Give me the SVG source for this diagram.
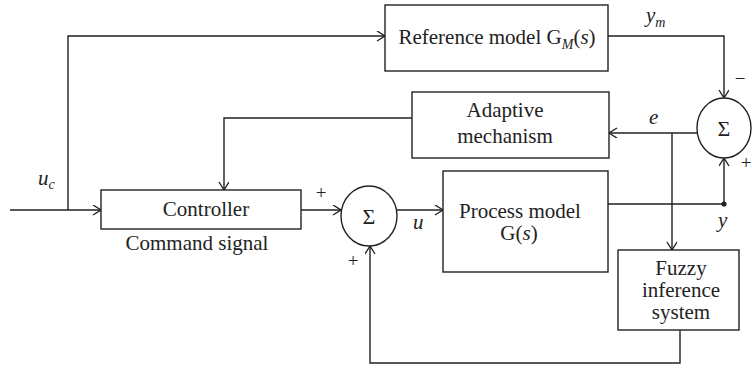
<svg xmlns="http://www.w3.org/2000/svg" width="752" height="368" viewBox="0 0 752 368">
<style>
.box{fill:#fff;stroke:#222;stroke-width:1.4}
.sum{fill:#fff;stroke:#222;stroke-width:1.4}
.ln{fill:none;stroke:#222;stroke-width:1.4}
text{font-family:"Liberation Serif","Times New Roman",serif;font-size:21px;fill:#222}
.c{text-anchor:middle}
.i{font-style:italic}
.sm{font-size:14px}
.sg{font-size:22px}
.pm{font-size:19px}
</style>
<defs>
<marker id="ar" markerUnits="userSpaceOnUse" markerWidth="12" markerHeight="12" refX="9" refY="5" orient="auto">
<path d="M1,0 L9,5 L1,10" fill="none" stroke="#222" stroke-width="1.4"/>
</marker>
</defs>
<rect width="752" height="368" fill="#fff"/>
<g id="connectors">
<path class="ln" d="M10,210 H101" marker-end="url(#ar)"/>
<path class="ln" d="M68,210 V36 H385" marker-end="url(#ar)"/>
<path class="ln" d="M608,36 H724 V98" marker-end="url(#ar)"/>
<path class="ln" d="M698,133 H609" marker-end="url(#ar)"/>
<path class="ln" d="M672,133 V250" marker-end="url(#ar)"/>
<path class="ln" d="M608,204 H724 V158" marker-end="url(#ar)"/>
<circle cx="724" cy="204" r="2.6" fill="#222"/>
<path class="ln" d="M412,118 H224 V190" marker-end="url(#ar)"/>
<path class="ln" d="M301,210 H341" marker-end="url(#ar)"/>
<path class="ln" d="M397,210 H443" marker-end="url(#ar)"/>
<path class="ln" d="M680,330 V363 H370 V246" marker-end="url(#ar)"/>
</g>
<g id="reference-model">
<rect class="box" x="385" y="5" width="223" height="66"/>
<text x="497" y="44" class="c">Reference model G<tspan class="i sm" dy="5">M</tspan><tspan dy="-5">(</tspan><tspan class="i">s</tspan>)</text>
</g>
<g id="adaptive-mechanism">
<rect class="box" x="412" y="92" width="197" height="66"/>
<text x="505" y="117" class="c">Adaptive</text>
<text x="505" y="143" class="c">mechanism</text>
</g>
<g id="controller">
<rect class="box" x="101" y="190" width="200" height="39"/>
<text x="206" y="216" class="c">Controller</text>
</g>
<g id="process-model">
<rect class="box" x="443" y="171" width="165" height="101"/>
<text x="520" y="218" class="c">Process model</text>
<text x="519" y="240" class="c">G(<tspan class="i">s</tspan>)</text>
</g>
<g id="fuzzy">
<rect class="box" x="618" y="250" width="121" height="80"/>
<text x="681" y="275" class="c">Fuzzy</text>
<text x="681" y="297" class="c">inference</text>
<text x="681" y="319" class="c">system</text>
</g>
<g id="sum1">
<ellipse class="sum" cx="369" cy="216" rx="28" ry="30"/>
<text x="369" y="224" class="c sg">Σ</text>
</g>
<g id="sum2">
<ellipse class="sum" cx="724" cy="128" rx="27" ry="30"/>
<text x="724" y="136" class="c sg">Σ</text>
</g>
<g id="labels">
<text x="197" y="250" class="c">Command signal</text>
<text x="38" y="185" class="i">u<tspan class="sm" dy="4">c</tspan></text>
<text x="646" y="22" class="i">y<tspan class="sm" dy="5">m</tspan></text>
<text x="649" y="124" class="i">e</text>
<text x="413" y="229" class="i">u</text>
<text x="718" y="227" class="i">y</text>
<text x="321" y="199" class="c pm">+</text>
<text x="353" y="267" class="c pm">+</text>
<text x="740" y="85" class="c pm">−</text>
<text x="746" y="169" class="c pm">+</text>
</g>
</svg>
